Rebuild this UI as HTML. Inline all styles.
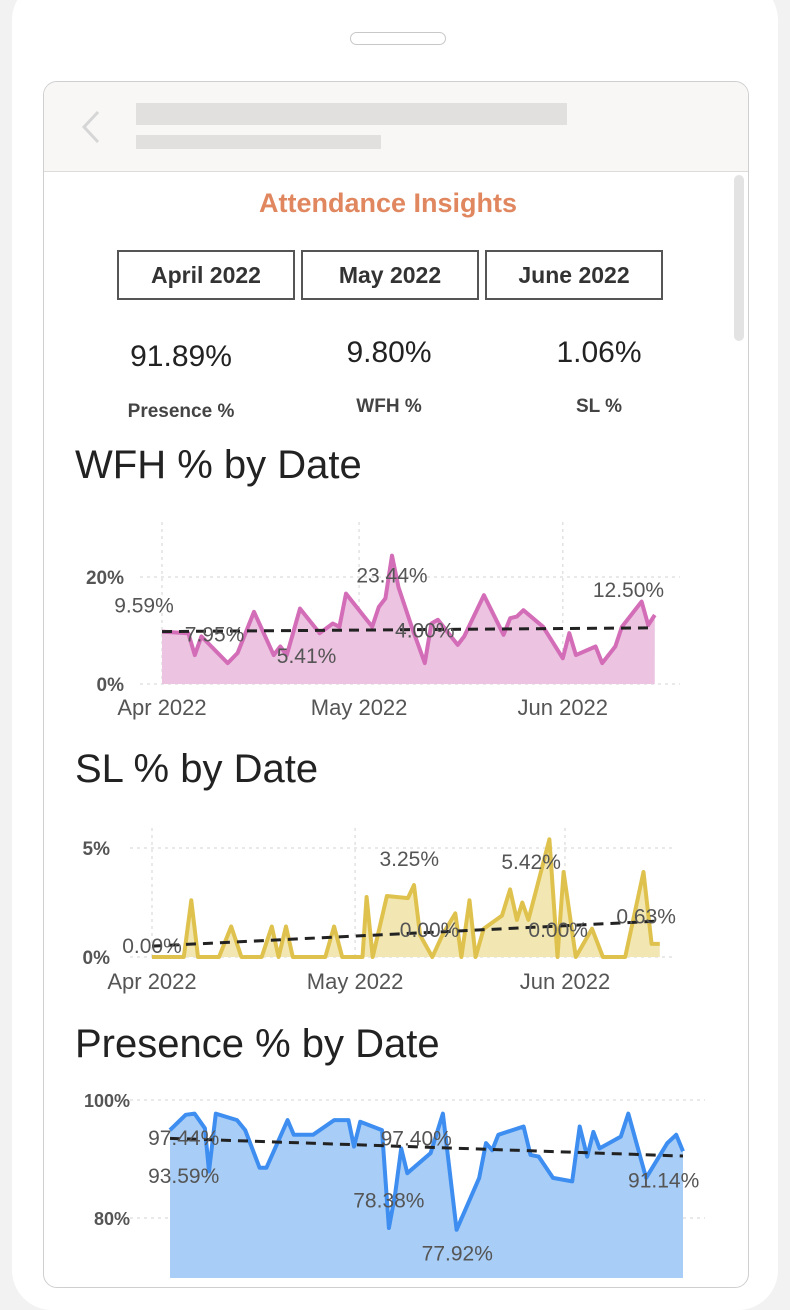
<!DOCTYPE html>
<html><head><meta charset="utf-8">
<style>
html,body{margin:0;padding:0;width:790px;height:1298px;overflow:hidden;background:#f2f2f2;font-family:"Liberation Sans",sans-serif;}
#phone{position:absolute;left:12px;top:-20px;width:766px;height:1330px;background:#fff;border-radius:40px;}
#notch{position:absolute;left:338px;top:52px;width:96px;height:13px;border:1.5px solid #c8c8c8;border-radius:8px;box-sizing:border-box;}
#frame{position:absolute;left:43px;top:81px;width:706px;height:1207px;border:1.5px solid #cfcfcf;border-radius:14px;box-sizing:border-box;overflow:hidden;background:#fff;}
#hdr{position:absolute;left:0;top:0;width:100%;height:89px;background:#f8f7f5;border-bottom:1.5px solid #dcdcdc;}
.bar{position:absolute;background:#e1e0de;}
#scroll{position:absolute;left:690px;top:93px;width:10px;height:166px;background:#e3e3e3;border-radius:5px;}
.t{position:absolute;white-space:nowrap;}
.btn{position:absolute;top:168px;width:178px;height:50px;border:2px solid #555;box-sizing:border-box;font:bold 23px "Liberation Sans Narrow","Liberation Sans",sans-serif;color:#333;text-align:center;line-height:46px;}
.kv{font:30px "Liberation Sans Narrow","Liberation Sans",sans-serif;color:#222;}
.kl{font:bold 19px "Liberation Sans Narrow","Liberation Sans",sans-serif;color:#444;}
.ct{font:40px "Liberation Sans",sans-serif;color:#222;left:31px;}
svg{position:absolute;left:0;top:0;}
</style></head><body>
<div id="phone"><div id="notch"></div></div>
<div id="frame">
 <div id="hdr">
  <svg width="40" height="50" style="left:30px;top:20px"><polyline points="24,10 10,25 24,40" fill="none" stroke="#d6d6d6" stroke-width="3"/></svg>
  <div class="bar" style="left:92px;top:21px;width:431px;height:22px"></div>
  <div class="bar" style="left:92px;top:53px;width:245px;height:14px"></div>
 </div>
 <div id="scroll"></div>
 <div class="t" style="left:0;width:688px;text-align:center;top:106px;font:bold 27px 'Liberation Sans',sans-serif;color:#e0875f">Attendance Insights</div>
 <div class="btn" style="left:73px">April 2022</div>
 <div class="btn" style="left:257px">May 2022</div>
 <div class="btn" style="left:441px">June 2022</div>
 <div class="t kv" style="left:37px;width:200px;text-align:center;top:258px">91.89%</div>
 <div class="t kl" style="left:37px;width:200px;text-align:center;top:319px">Presence %</div>
 <div class="t kv" style="left:245px;width:200px;text-align:center;top:254px">9.80%</div>
 <div class="t kl" style="left:245px;width:200px;text-align:center;top:314px">WFH %</div>
 <div class="t kv" style="left:455px;width:200px;text-align:center;top:254px">1.06%</div>
 <div class="t kl" style="left:455px;width:200px;text-align:center;top:314px">SL %</div>
 <div class="t ct" style="top:361px">WFH % by Date</div>
 <div class="t ct" style="top:665px">SL % by Date</div>
 <div class="t ct" style="top:940px">Presence % by Date</div>
</div>
<svg id="charts" width="790" height="1298"></svg>
<script>
// WFH data (day offset from Apr 1, value %)
const wfhDays=[0,4,5,6,10,11.5,14,17,18,19,21,24,26,27,28,32,33,34,35,36,38,40,41,42,45,46,49,52,53,54,55,58,61,62,63,66,67,69,70,73,74,75];
const wfhVals=[9.8,9.5,5.4,8.9,3.9,5.8,13.5,5.4,7,5.4,14.1,9.5,11.3,10.7,16.9,10.7,14.4,16,24,18.1,10.7,3.9,11.3,12,7.3,8.9,16.6,9.2,12.3,12.6,13.8,10.7,4.8,9.5,5.4,7,3.9,7,10.7,15.4,11,12.9];
const wfhTrend=[9.8,10.5];
const wfhTicks=[0,20];
const wfhLabels=[{d:0,v:9.59,t:"9.59%",dx:-18,dy:-20},{d:8,v:7.95,t:"7.95%",dx:0,dy:0},{d:22,v:5.41,t:"5.41%",dx:0,dy:8},{d:35,v:23.44,t:"23.44%",dx:0,dy:24},{d:40,v:4.0,t:"4.00%",dx:0,dy:-25},{d:71,v:12.5,t:"12.50%",dx:0,dy:-20}];
// SL data
const slDays=[0,3.5,4.7,5.8,6.8,9.9,11.7,13.2,16.2,17.7,18.7,19.8,20.8,25.6,26.9,28.1,31.1,31.7,32.6,34.7,37.8,38.7,39.6,41.4,42.9,44.8,45.7,46.9,47.8,49,51.7,52.9,53.9,54.7,55.6,58.7,59.9,60.8,62.6,65,66.6,69.9,72.6,73.8,75];
const slVals=[0,0,0,2.6,0,0,1.4,0,0,1.4,0,1.4,0,0,1.4,0,0,2.75,0,2.8,2.7,3.3,1,0,1,2,0,2.6,0,1.3,1.9,3.1,1.7,2.5,1.7,5.4,0,3.9,0,1.3,0,0,3.9,0.6,0.6];
const slTrend=[0.5,1.65];
const slTicks=[0,5];
const slLabels=[{d:0,v:0,t:"0.00%",dx:0,dy:-4},{d:38,v:3.25,t:"3.25%",dx:0,dy:-20},{d:41,v:0,t:"0.00%",dx:0,dy:-20},{d:56,v:5.42,t:"5.42%",dx:0,dy:30},{d:60,v:0,t:"0.00%",dx:0,dy:-20},{d:73,v:0.63,t:"0.63%",dx:0,dy:-20}];
// Presence data
const prDays=[0,2.3,3.6,5.1,5.7,6.7,9.8,11,13.1,14.1,17.2,18.1,20.9,24,26.1,26.9,27.8,31,32,32.9,33.8,34.7,38.1,39.9,41.9,45.2,46.2,47.1,48,51.7,52.7,53.9,56,58.8,59.9,61,61.9,62.8,65.9,67,69.6,72.7,74,75];
const prVals=[94.9,97.5,97.7,95.2,87.9,97.7,96.6,94.9,88.5,88.5,96.6,94.1,94.1,96.6,96.6,92.1,96.3,94.9,78.3,83.9,91.8,87.6,91,97.7,78,86.8,92.7,91.5,94.1,95.5,90.7,90.4,86.8,86.2,95.5,90.4,94.6,91.8,93.8,97.7,86.8,92.7,94.1,91.3];
const prTrend=[93.5,90.5];
const prTicks=[80,100];
const prLabels=[{d:2,v:97.44,t:"97.44%",dx:0,dy:30},{d:2,v:93.59,t:"93.59%",dx:0,dy:45},{d:32,v:78.38,t:"78.38%",dx:0,dy:-20},{d:36,v:97.4,t:"97.40%",dx:0,dy:30},{d:42,v:77.92,t:"77.92%",dx:0,dy:30},{d:71,v:91.14,t:"91.14%",dx:8,dy:35}];
const monthLabels=["Apr 2022","May 2022","Jun 2022"];
const monthDays=[0,30,61];

const NS="http://www.w3.org/2000/svg";
const svg=document.getElementById('charts');
function mk(tag,attrs,parent){const e=document.createElementNS(NS,tag);for(const k in attrs)e.setAttribute(k,attrs[k]);(parent||svg).appendChild(e);return e;}
function chart(cfg){
 const g=mk('g',{});
 
 
 const X=d=>cfg.x0+d*cfg.px;
 const Y=v=>cfg.y0-(v-cfg.vmin)*cfg.py;
 cfg.ticks.forEach(t=>{
  const l=mk('line',{x1:cfg.gx0,x2:cfg.gx1,y1:Y(t),y2:Y(t),stroke:'#e2e2e2','stroke-dasharray':'3,4','stroke-width':1.5},g);
  
  
  const tx=mk('text',{x:cfg.tickX,y:Y(t)+7,'text-anchor':'end','font-size':cfg.tickFs||19,'font-weight':'bold',fill:'#555','font-family':'Liberation Sans Narrow, Liberation Sans, sans-serif'},g);
  tx.textContent=t+'%';
  
  
 });
 if(cfg.showV){monthDays.forEach(d=>{
  const l=mk('line',{x1:X(d),x2:X(d),y1:cfg.vTop,y2:cfg.y0,stroke:'#e2e2e2','stroke-dasharray':'3,4','stroke-width':1.5},g);
  
  
 });}
 if(cfg.showX){monthDays.forEach((d,i)=>{
  const tx=mk('text',{x:X(d),y:cfg.xLabY,'text-anchor':'middle','font-size':22,fill:'#555','font-family':'Liberation Sans, sans-serif'},g);
  tx.textContent=monthLabels[i];
  
  
 });}
 const pts=cfg.days.map((d,i)=>X(d).toFixed(1)+','+Y(cfg.vals[i]).toFixed(1));
 const base=cfg.fillBase;
 const area=mk('polygon',{points:X(cfg.days[0])+','+base+' '+pts.join(' ')+' '+X(cfg.days[cfg.days.length-1])+','+base,fill:cfg.fill},g);
 
 
 const line=mk('polyline',{points:pts.join(' '),fill:'none',stroke:cfg.stroke,'stroke-width':4,'stroke-linejoin':'round'},g);
 
 
 const last=cfg.days[cfg.days.length-1];
 const tr=mk('line',{x1:X(0),y1:Y(cfg.trend[0]),x2:X(last),y2:Y(cfg.trend[1]),stroke:'#222','stroke-width':3,'stroke-dasharray':'10,7'},g);
 
 
 cfg.labels.forEach(L=>{
  const tx=mk('text',{x:X(L.d)+L.dx,y:Y(L.v)+L.dy,'text-anchor':'middle','font-size':21,fill:'#555','font-family':'Liberation Sans, sans-serif'},g);
  tx.textContent=L.t;
  
  
 });
}
chart({name:'wfh-chart',days:wfhDays,vals:wfhVals,trend:wfhTrend,ticks:wfhTicks,labels:wfhLabels,x0:162,px:6.57,y0:684,vmin:0,py:5.35,gx0:140,gx1:680,tickX:124,showV:true,vTop:522,showX:true,xLabY:715,fill:'#ecc3e0',stroke:'#d36db8',fillBase:684});
chart({name:'sl-chart',days:slDays,vals:slVals,trend:slTrend,ticks:slTicks,labels:slLabels,x0:152,px:6.77,y0:957,vmin:0,py:21.8,gx0:130,gx1:672,tickX:110,showV:true,vTop:828,showX:true,xLabY:989,fill:'#f2e7b2',stroke:'#dfc24e',fillBase:957});
chart({name:'presence-chart',days:prDays,vals:prVals,trend:prTrend,ticks:prTicks,labels:prLabels,x0:170,px:6.84,y0:1218,vmin:80,py:5.9,gx0:130,gx1:705,tickX:130,tickFs:18,showV:false,showX:false,fill:'#a8cdf6',stroke:'#3d8ef0',fillBase:1278});
</script>
</body></html>
